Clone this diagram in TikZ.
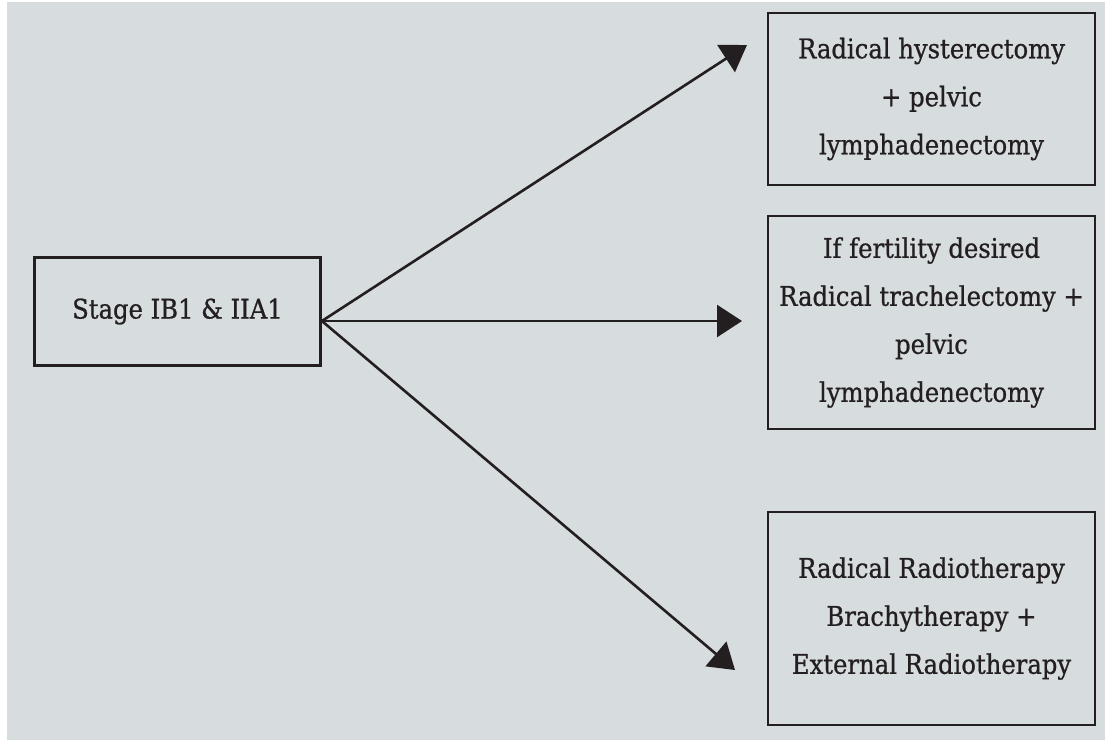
\documentclass[tikz,border=0pt]{standalone}
\usepackage{fontspec}
\setmainfont{DejaVu Serif Condensed}[FakeBold=0.8]
\usetikzlibrary{arrows.meta}
\definecolor{panel}{HTML}{D7DCDF}
\definecolor{ink}{HTML}{231F20}
\tikzset{>={Triangle[length=25pt,width=32pt]}}
\tikzset{stepbox/.style={draw=ink,line width=2.8pt,align=center,text=ink,
    font=\fontsize{27}{48}\selectfont,inner sep=0pt}}

\begin{document}
\begin{tikzpicture}[x=1pt,y=-1pt,line width=2.6pt]
  % background
  \fill[white] (0,0) rectangle (1105,740);
  \fill[panel] (7,2) rectangle (1105,740);
  % boxes
  \node[stepbox,minimum width=286pt,minimum height=108pt] (stage) at (177.5,311.5)
    {Stage IB1 \& IIA1};
  \node[stepbox,minimum width=327pt,minimum height=172pt] (surgery) at (931.5,99)
    {Radical hysterectomy\\+ pelvic\\lymphadenectomy};
  \node[stepbox,minimum width=327pt,minimum height=213pt] (fertility) at (931.5,322.5)
    {If fertility desired\\Radical trachelectomy +\\pelvic\\lymphadenectomy};
  \node[stepbox,minimum width=327pt,minimum height=213pt] (radio) at (931.5,618.5)
    {Radical Radiotherapy\\Brachytherapy +\\External Radiotherapy};
  % arrow tips
  \coordinate (T1) at (747,45);
  \coordinate (T2) at (742,321);
  \coordinate (T3) at (735,670);
  % arrows
  \draw[->,ink] ([yshift=-9.5pt]stage.east) -- (T1);
  \draw[->,ink] ([yshift=-9.5pt]stage.east) -- (T2);
  \draw[->,ink] ([yshift=-9.5pt]stage.east) -- (T3);
\end{tikzpicture}
\end{document}
